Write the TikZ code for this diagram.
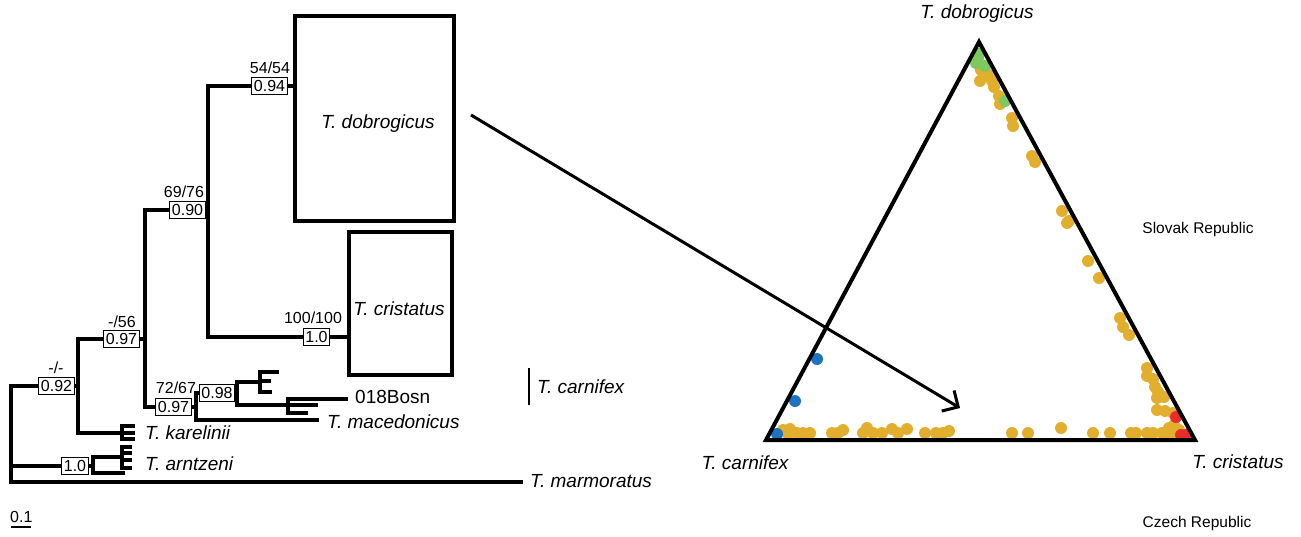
\documentclass[tikz,border=0pt]{standalone}
\usepackage{fontspec}
\setmainfont{Liberation Sans}
\usetikzlibrary{arrows.meta}
\definecolor{gold}{RGB}{226,174,46}
\definecolor{grn}{RGB}{125,200,95}
\definecolor{blu}{RGB}{30,115,190}
\definecolor{rd}{RGB}{235,45,40}
\begin{document}
\begin{tikzpicture}[x=1pt,y=-1pt,
  hb/.style={line width=3.2pt},
  vb/.style={line width=3.2pt, line cap=rect},
  suppbox/.style={draw, line width=1pt, fill=white, inner xsep=2pt, inner ysep=1pt, minimum height=17pt, font=\fontsize{16}{18}\selectfont},
  val/.style={inner sep=0pt, font=\fontsize{16}{18}\selectfont},
  spl/.style={inner sep=0pt, font=\fontsize{19}{22}\selectfont\itshape},
  clade/.style={draw, line width=3.2pt, inner sep=0pt},
  region/.style={inner sep=0pt, font=\fontsize{15.5}{18}\selectfont},
  golddot/.style={fill=gold},
  grndot/.style={fill=grn},
  bludot/.style={fill=blu},
  rddot/.style={fill=rd}]
\useasboundingbox (0,0) rectangle (1301,536);
% ---------------- tree ----------------
\coordinate (R1) at (11,386);
\coordinate (R2) at (11,466);
\coordinate (R3) at (11,482);
\draw[vb] (R1) -- (R3);
% node A
\coordinate (A0) at (78,339);
\coordinate (A1) at (78,386);
\coordinate (A2) at (78,433);
\draw[vb] (A0) -- (A2);
\node[suppbox] (b092) at (56.5,386) {0.92};
\node[val] (l092) at (56,368) {-/-};
\draw[hb] (R1) -- (b092) -- (A1);
% node B
\coordinate (B0) at (145,210);
\coordinate (B1) at (145,339);
\coordinate (B2) at (145,407);
\draw[vb] (B0) -- (B2);
\node[suppbox] (b097a) at (121.5,339) {0.97};
\node[val] (l056) at (122,322) {-/56};
\draw[hb] (A0) -- (b097a) -- (B1);
% node C
\coordinate (C0) at (208,86);
\coordinate (C1) at (208,210);
\coordinate (C2) at (208,337);
\draw[vb] (C0) -- (C2);
\node[suppbox] (b090) at (187.5,210) {0.90};
\node[val] (l090) at (184,192) {69/76};
\draw[hb] (B0) -- (b090) -- (C1);
% dobrogicus
\node[clade, minimum width=159pt, minimum height=205pt] (dob) at (374.5,118.5) {};
\node[spl] (dobl) at (378,124) {T. dobrogicus};
\node[suppbox] (b094) at (269.5,86) {0.94};
\node[val] (l094) at (270,68) {54/54};
\draw[hb] (C0) -- (b094) -- (dob.west |- C0);
% cristatus
\node[clade, minimum width=103pt, minimum height=143pt] (cri) at (400.5,303.5) {};
\node[spl] (cril) at (399,309) {T. cristatus};
\node[suppbox] (b10a) at (316.5,337) {1.0};
\node[val] (l10a) at (313,318) {100/100};
\draw[hb] (C2) -- (b10a) -- (cri.west |- C2);
% node D
\coordinate (D0) at (196,393);
\coordinate (D1) at (196,407);
\coordinate (D2) at (196,420);
\draw[vb] (D0) -- (D2);
\node[suppbox] (b097b) at (173.5,407) {0.97};
\node[val] (l7267) at (176,388) {72/67};
\draw[hb] (B2) -- (b097b) -- (D1);
% node E
\coordinate (E0) at (237,382);
\coordinate (E1) at (237,393);
\coordinate (E2) at (237,405);
\draw[vb] (E0) -- (E2);
\node[suppbox] (b098) at (217,393) {0.98};
\draw[hb] (D0) -- (b098) -- (E1);
% upper carnifex comb
\coordinate (F1) at (260,382);
\draw[hb] (E0) -- (F1);
\draw[vb] (260,372) -- (260,392);
\draw[hb] (260,372) -- (279,372);
\draw[hb] (260,381) -- (271,381);
\draw[hb] (260,392) -- (272,392);
% lower carnifex comb
\node[anchor=west, inner sep=0pt, font=\fontsize{19}{22}\selectfont] (bosn) at (355,397) {018Bosn};
\coordinate (G1) at (318,405);
\draw[hb] (E2) -- (G1);
\draw[vb] (288,399) -- (288,413);
\draw[hb] (288,399) -- ([xshift=-7pt]bosn.west |- 288,399);
\draw[hb] (288,413) -- (308,413);
% macedonicus
\node[spl, anchor=west] (mac) at (327,422) {T. macedonicus};
\coordinate (M1) at (319,420);
\draw[hb] (D2) -- (M1);
% karelinii
\coordinate (K0) at (122,433);
\draw[hb] (A2) -- (K0);
\draw[vb] (122,426) -- (122,439);
\draw[hb] (122,426) -- (135,426);
\draw[hb] (122,433) -- (135,433);
\draw[hb] (122,439) -- (135,439);
\node[spl, anchor=west] (kar) at (145,433) {T. karelinii};
% arntzeni
\coordinate (H0) at (93,457);
\coordinate (H1) at (93,466);
\coordinate (H2) at (93,473);
\draw[vb] (H0) -- (H2);
\node[suppbox] (b10b) at (75,466) {1.0};
\draw[hb] (R2) -- (b10b) -- (H1);
\coordinate (J0) at (122,457);
\draw[hb] (H0) -- (J0);
\draw[vb] (122,447) -- (122,468);
\draw[hb] (122,447) -- (132,447);
\draw[hb] (122,453) -- (132,453);
\draw[hb] (122,460) -- (132,460);
\draw[hb] (122,468) -- (132,468);
\coordinate (J2) at (125,473);
\draw[hb] (H2) -- (J2);
\node[spl, anchor=west] (arn) at (145,464) {T. arntzeni};
% marmoratus
\node[spl, anchor=west] (mar) at (530,481) {T. marmoratus};
\coordinate (Q1) at (523,482);
\draw[hb] (R3) -- (Q1);
% carnifex bar
\coordinate (CB0) at (529,368);
\coordinate (CB1) at (529,405);
\draw[line width=2.5pt] (CB0) -- (CB1);
\node[spl, anchor=west] (carn) at (537,387) {T. carnifex};
% scale
\node[val, anchor=west] (sc) at (10,517) {0.1};
\draw[line width=2pt] (11,527) -- (31,527);
% ---------------- triangle ----------------
\foreach \p in {(981,70),(980,81),(989,75),(992,81),(994,87),(999,96),(1000,104),(1012,118),(1013,126),(1032,156),(1035,162),
  (1062,211),(1067,223),(1069,221),(1088,261),(1099,278),(1120,318),(1123,327),(1129,335),
  (1147,368),(1147,376),(1153,379),(1155,387),(1158,392),(1157,398),(1164,397),(1157,410),(1165,411),(1173,413),(1174,425),(1169,428),(1179,430),(1169,433),
  (1012,433),(1028,433),(1061,428),(1093,433),(1110,433),(1131,433),(1136,433),(1147,433),(1153,433),(1162,433),(1170,433),(1176,433),
  (783,430),(790,429),(788,434),(797,433),(803,433),(810,433),(832,433),(838,433),(843,430),(863,433),(867,428),(873,433),(882,433),(892,429),(898,433),(907,429),(925,433),(936,433),(943,433),(949,431)}
  \fill[golddot] \p circle[radius=6pt];
\foreach \p in {(979,54),(976,63),(985,66),(978,58),(1005,101)}
  \fill[grndot] \p circle[radius=6pt];
\foreach \p in {(817,359),(795,401),(777,434)}
  \fill[bludot] \p circle[radius=6pt];
\foreach \p in {(1176,417),(1181,435),(1186,435)}
  \fill[rddot] \p circle[radius=6pt];
\coordinate (T1) at (979,42);
\coordinate (T2) at (766,440);
\coordinate (T3) at (1195,440);
\draw[line width=4pt, line join=miter] (T1) -- (T2) -- (T3) -- cycle;
\node[spl] (tdob) at (977,14) {T. dobrogicus};
\node[spl] (tcar) at (745,463) {T. carnifex};
\node[spl] (tcri) at (1238,462) {T. cristatus};
\node[region] (slo) at (1198,229) {Slovak Republic};
\node[region] (cze) at (1197,523) {Czech Republic};
% arrow
\coordinate (AS) at (471,115);
\coordinate (AE) at (960,408);
\draw[line width=3pt, -{Straight Barb[length=12pt,width=24pt]}] (AS) -- (AE);
\end{tikzpicture}
\end{document}
